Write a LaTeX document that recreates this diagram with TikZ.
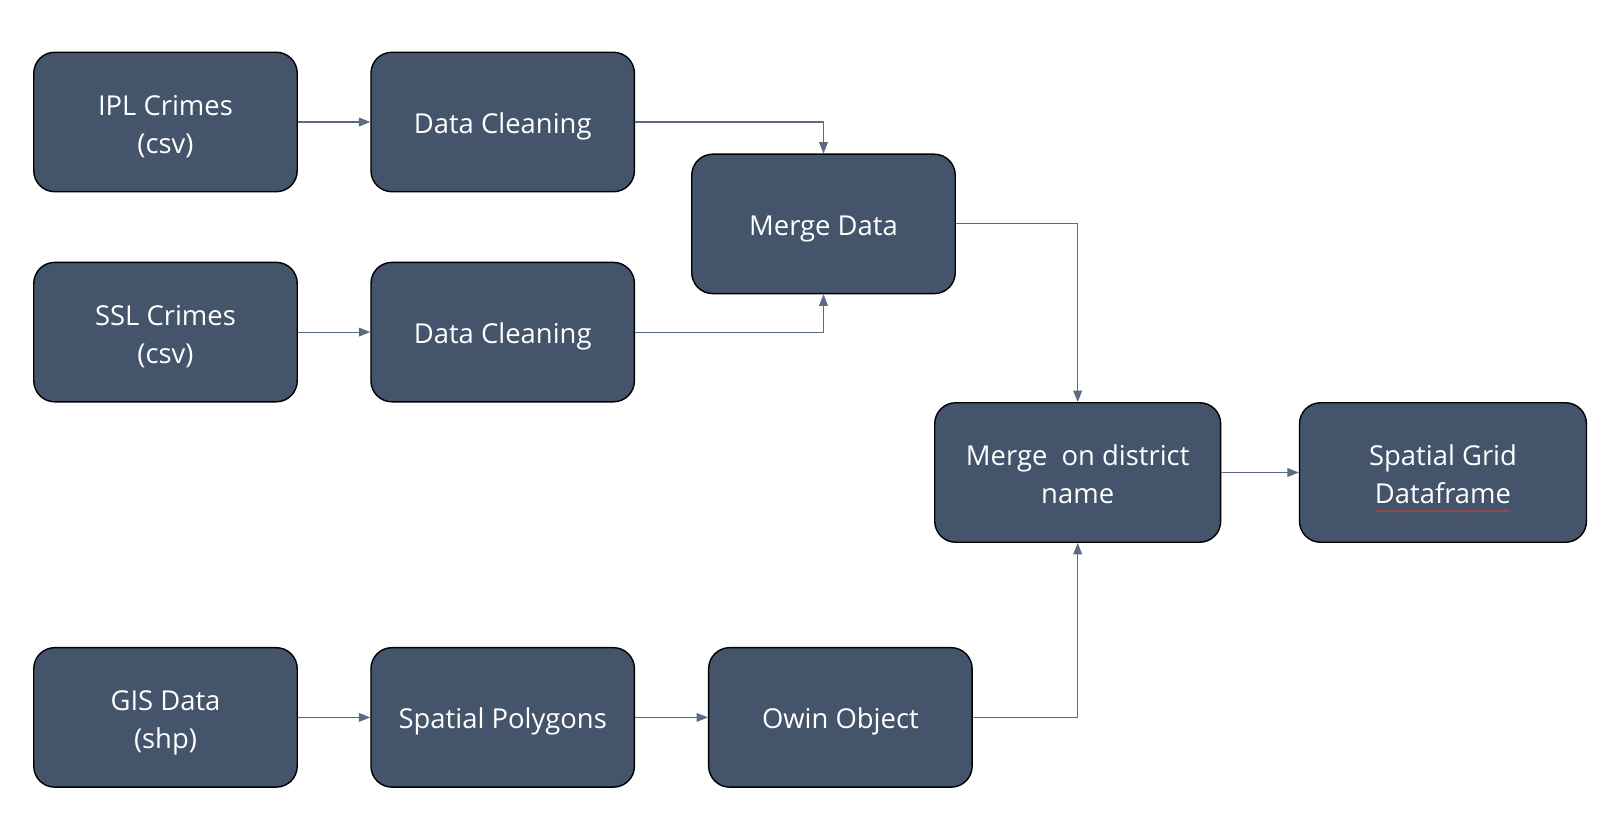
\documentclass[tikz,border=0pt]{standalone}
\usepackage{fontspec}
\setmainfont{Open Sans}
\usetikzlibrary{arrows.meta,decorations.pathmorphing}
\definecolor{Slate}{HTML}{44546A}
\definecolor{LinkGrey}{HTML}{5B6B84}
\definecolor{SpellRed}{HTML}{E03C3C}

\tikzset{
  stepbox/.style={draw=black, line width=0.8pt, fill=Slate, rounded corners=0.42cm,
    minimum width=5.27cm, minimum height=2.79cm, text=white, align=center,
    font=\fontsize{15.6}{21.6}\selectfont, inner sep=2pt,
    execute at begin node={\rule{0pt}{16.6pt}}},
  twoline/.style={text height=35.5pt, text depth=0pt},
  widebox/.style={stepbox, minimum width=5.72cm},
  link/.style={LinkGrey, line width=0.6pt, -{Triangle[length=6.5pt,width=5pt]}}
}

\begin{document}
\begin{tikzpicture}[x=0.02cm, y=-0.02cm]

  % canvas, same size as the reference
  \useasboundingbox (0,0) rectangle (1607,831);

  % -------------------------------------------------------
  % Crime sources
  % -------------------------------------------------------
  \node[stepbox, twoline] (ipl) at (165.5, 122) {IPL Crimes\\(csv)};
  \node[stepbox] (clean1) at (502.7, 122) {Data Cleaning};
  \node[stepbox, twoline] (ssl) at (165.5, 332.1) {SSL Crimes\\(csv)};
  \node[stepbox] (clean2) at (502.7, 332.1) {Data Cleaning};
  \node[stepbox] (mergedata) at (823.5, 223.9) {Merge Data};

  % -------------------------------------------------------
  % Spatial branch
  % -------------------------------------------------------
  \node[stepbox, twoline] (gis) at (165.5, 717.4) {GIS Data\\(shp)};
  \node[stepbox] (poly) at (502.7, 717.4) {Spatial Polygons};
  \node[stepbox] (owin) at (840.4, 717.4) {Owin Object};

  % -------------------------------------------------------
  % Final merge
  % -------------------------------------------------------
  \node[widebox, twoline] (mergedist) at (1077.7, 472.5) {Merge\ \ on district\\name};
  \node[widebox, twoline, minimum width=5.74cm] (grid) at (1443, 472.5) {Spatial Grid\\Dataframe};

  % spell-check squiggle under "Dataframe"
  \coordinate (squigL) at (1376, 511);
  \coordinate (squigR) at (1510, 511);
  \draw[SpellRed, line width=0.35pt,
    decorate, decoration={snake, amplitude=0.5pt, segment length=2.2pt}]
    (squigL) -- (squigR);

  % connectors
  \draw[link] (ipl) -- (clean1);
  \draw[link] (ssl) -- (clean2);
  \draw[link] (clean1.east) -| (mergedata.north);
  \draw[link] (clean2.east) -| (mergedata.south);
  \draw[link] (mergedata.east) -| (mergedist.north);
  \draw[link] (gis) -- (poly);
  \draw[link] (poly) -- (owin);
  \draw[link] (owin.east) -| (mergedist.south);
  \draw[link] (mergedist) -- (grid);

\end{tikzpicture}
\end{document}
